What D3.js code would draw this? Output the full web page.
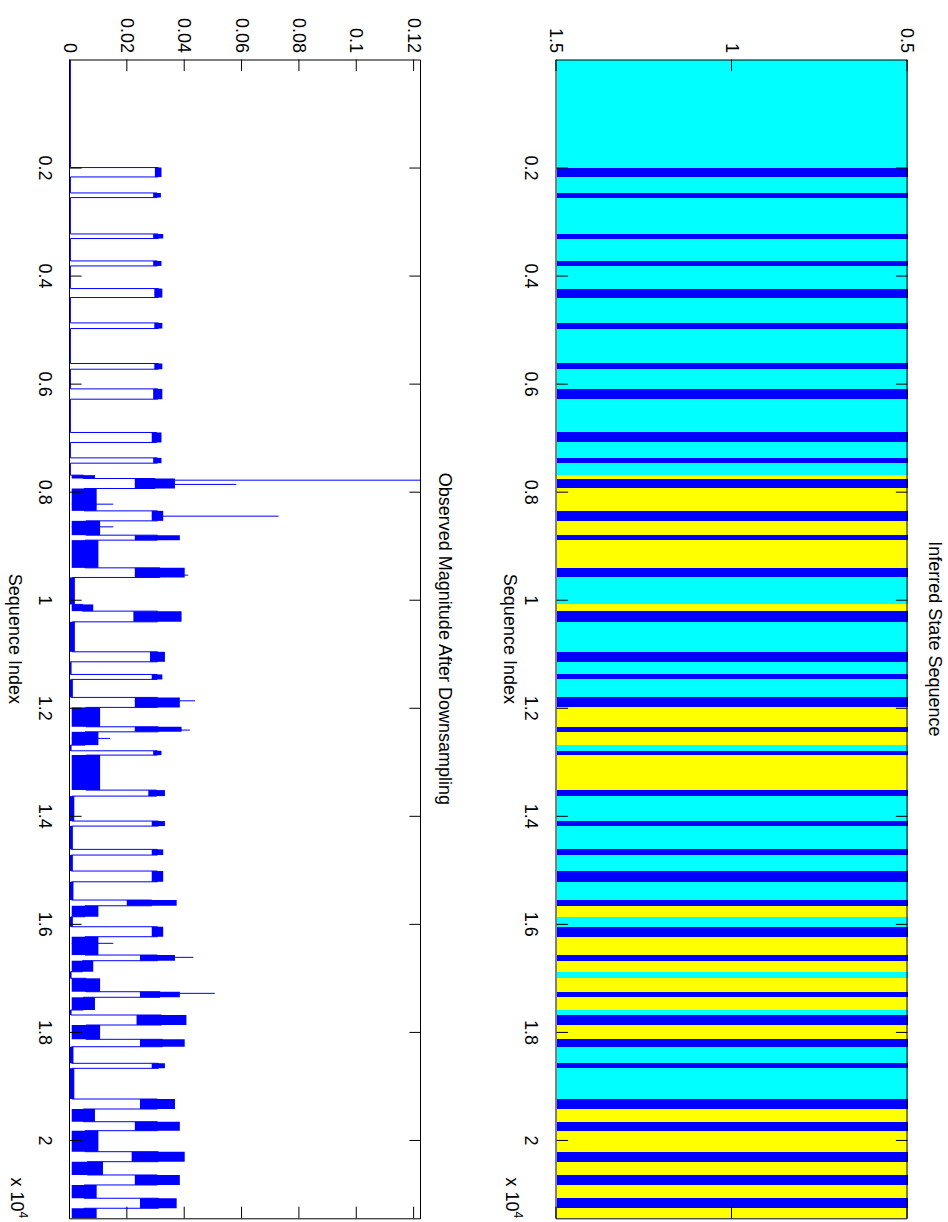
<!DOCTYPE html>
<html>
<head>
<meta charset="utf-8">
<script src="https://cdn.jsdelivr.net/npm/d3@7"></script>
<style>
  body { margin: 0; background: #fff; }
  text { font-family: "Liberation Sans", Arial, Helvetica, sans-serif; }
</style>
</head>
<body>
<script>
// length of the sequence (samples)
var seqLength = 21450;
var magMax = 0.1224;

// inferred state sequence as runs: start index and state (1 = blue, 2 = cyan, 3 = yellow)
var runStart = [0, 2000, 2174, 2470, 2556, 3229, 3314, 3729, 3821, 4240,
  4406, 4876, 4980, 5627, 5733, 6097, 6288, 6904, 7089, 7374,
  7472, 7694, 7756, 7941, 8355, 8540, 8805, 8897, 9410, 9588,
  10087, 10211, 10409, 10964, 11149, 11383, 11475, 11808, 11993, 12352,
  12445, 12691, 12796, 12876, 13524, 13635, 14097, 14190, 14621, 14726,
  15022, 15221, 15559, 15665, 15868, 16053, 16238, 16577, 16682, 16886,
  17008, 17256, 17359, 17594, 17687, 17872, 18137, 18274, 18581, 18674,
  19242, 19427, 19662, 19828, 20217, 20402, 20648, 20833, 21079, 21264];
var runState = [2, 1, 2, 1, 2, 1, 2, 1, 2, 1,
  2, 1, 2, 1, 2, 1, 2, 1, 2, 1,
  2, 3, 1, 3, 1, 3, 1, 3, 1, 2,
  3, 1, 2, 1, 2, 1, 2, 1, 3, 1,
  3, 2, 1, 3, 1, 2, 1, 2, 1, 2,
  1, 2, 1, 3, 2, 1, 3, 1, 3, 2,
  3, 1, 3, 2, 1, 3, 1, 2, 1, 2,
  1, 3, 1, 3, 1, 3, 1, 3, 1, 3];

// observed magnitude in each run: low and high edge of the dense noise band
var runLo = [0, 0.0296, 0, 0.0290, 0, 0.0290, 0, 0.0290, 0, 0.0294,
  0, 0.0294, 0, 0.0294, 0, 0.0290, 0, 0.0285, 0, 0.0290,
  0, 0.0006, 0.0226, 0.0006, 0.0285, 0.0006, 0.0226, 0.0006, 0.0226, 0,
  0.0006, 0.0221, 0, 0.0279, 0, 0.0285, 0, 0.0226, 0.0006, 0.0226,
  0.0006, 0, 0.0290, 0.0006, 0.0273, 0, 0.0285, 0, 0.0285, 0,
  0.0285, 0, 0.0198, 0.0006, 0, 0.0285, 0.0006, 0.0244, 0.0006, 0,
  0.0006, 0.0244, 0.0006, 0, 0.0232, 0.0006, 0.0244, 0, 0.0285, 0,
  0.0244, 0.0006, 0.0226, 0.0006, 0.0215, 0.0006, 0.0226, 0.0006, 0.0244, 0.0006];
var runHi = [0.0003, 0.0319, 0.0003, 0.0317, 0.0003, 0.0325, 0.0003, 0.0319, 0.0003, 0.0322,
  0.0003, 0.0322, 0.0003, 0.0322, 0.0003, 0.0322, 0.0003, 0.0319, 0.0003, 0.0319,
  0.0003, 0.0087, 0.0366, 0.0093, 0.0325, 0.0105, 0.0383, 0.0099, 0.0400, 0.0017,
  0.0081, 0.0389, 0.0017, 0.0331, 0.0005, 0.0322, 0.0010, 0.0383, 0.0105, 0.0389,
  0.0099, 0.0005, 0.0319, 0.0105, 0.0331, 0.0015, 0.0331, 0.0010, 0.0325, 0.0010,
  0.0325, 0.0012, 0.0372, 0.0099, 0.0010, 0.0325, 0.0099, 0.0366, 0.0081, 0.0005,
  0.0105, 0.0383, 0.0087, 0.0005, 0.0406, 0.0105, 0.0400, 0.0012, 0.0331, 0.0015,
  0.0366, 0.0087, 0.0383, 0.0099, 0.0400, 0.0115, 0.0383, 0.0093, 0.0372, 0.0093];

// single samples that stick out of the bands
var spikeIdx = [7787, 7865, 8231, 8453, 8651, 9545, 11871, 12413, 12567, 16360, 16620, 17286];
var spikeVal = [0.1224, 0.058, 0.0151, 0.0727, 0.0151, 0.0412, 0.0436, 0.0418, 0.014, 0.0151, 0.043, 0.0505];

// tick values
var seqTicks = [2000, 4000, 6000, 8000, 10000, 12000, 14000, 16000, 18000, 20000];
var stateTicks = [0.5, 1, 1.5];
var magTicks = [0, 0.02, 0.04, 0.06, 0.08, 0.1, 0.12];

// figure is drawn landscape (1222 x 948) and turned a quarter clockwise
var fontSize = 18,
  tickLen = 11.6;

var svg = d3
  .select("body")
  .append("svg")
  .attr("width", 948)
  .attr("height", 1222);

svg.append("rect").attr("width", 948).attr("height", 1222).attr("fill", "#fff");

var fig = svg.append("g").attr("transform", "translate(948,0) rotate(90)");

var x = d3.scaleLinear().domain([0, seqLength]).range([59.5, 1218.3]);
var yState = d3.scaleLinear().domain([0.5, 1.5]).range([40.5, 391.5]);
var yMag = d3.scaleLinear().domain([0, magMax]).range([878, 527]);
var color = d3
  .scaleOrdinal()
  .domain([1, 2, 3])
  .range(["#0000ff", "#00ffff", "#ffff00"]);

var runs = runStart.map((s, i) => ({
  start: s,
  end: i < runStart.length - 1 ? runStart[i + 1] : seqLength,
  state: runState[i],
  lo: runLo[i],
  hi: runHi[i]
}));

// ---- top panel: state sequence image
fig
  .append("g")
  .selectAll("rect")
  .data(runs)
  .enter()
  .append("rect")
  .attr("x", (d) => x(d.start))
  .attr("width", (d) => x(d.end) - x(d.start))
  .attr("y", yState(0.5))
  .attr("height", yState(1.5) - yState(0.5))
  .attr("fill", (d) => color(d.state))
  .attr("shape-rendering", "crispEdges");

// ---- bottom panel: magnitude signal
fig
  .append("clipPath")
  .attr("id", "magclip")
  .append("rect")
  .attr("x", x.range()[0])
  .attr("y", yMag(magMax))
  .attr("width", x.range()[1] - x.range()[0])
  .attr("height", yMag(0) - yMag(magMax));

var sig = fig.append("g").attr("clip-path", "url(#magclip)");

var area = d3
  .area()
  .x((d) => x(d[0]))
  .y0((d) => yMag(d[1]))
  .y1((d) => yMag(d[2]));

sig
  .selectAll("path.band")
  .data(runs.filter((r) => r.hi - r.lo > 0.0004))
  .enter()
  .append("path")
  .attr("class", "band")
  .attr("d", (r) => area([[r.start, r.lo, r.hi], [r.end, r.lo, r.hi]]))
  .attr("fill", "#0000ff");

var linePts = [];
runs.forEach((r) => {
  var mid = (r.lo + r.hi) / 2;
  linePts.push([r.start, mid], [r.end, mid]);
});

sig
  .append("path")
  .attr("d", d3.line().x((d) => x(d[0])).y((d) => yMag(d[1]))(linePts))
  .attr("fill", "none")
  .attr("stroke", "#0000ff")
  .attr("stroke-width", 1);

var spikes = spikeIdx.map((s, i) => {
  var r = runs.find((r) => s >= r.start && s < r.end);
  return { idx: s, base: r.lo, val: spikeVal[i] };
});

sig
  .selectAll("line.spike")
  .data(spikes)
  .enter()
  .append("line")
  .attr("class", "spike")
  .attr("x1", (d) => x(d.idx))
  .attr("x2", (d) => x(d.idx))
  .attr("y1", (d) => yMag(d.base))
  .attr("y2", (d) => yMag(d.val))
  .attr("stroke", "#0000ff")
  .attr("stroke-width", 1);

// ---- axes, MATLAB style box with inward ticks
function drawAxes(yScale, yTicks, yFormat, titleText, titleY, labelY) {
  var top = d3.min(yScale.range()),
    bottom = d3.max(yScale.range());

  var bottomAxis = fig
    .append("g")
    .attr("transform", `translate(0,${bottom})`)
    .call(
      d3
        .axisBottom(x)
        .tickValues(seqTicks)
        .tickFormat((d) => d / 1e4)
        .tickSizeInner(-tickLen)
        .tickSizeOuter(0)
        .tickPadding(18.5)
    );

  fig
    .append("g")
    .attr("transform", `translate(0,${top})`)
    .call(
      d3
        .axisTop(x)
        .tickValues(seqTicks)
        .tickFormat("")
        .tickSizeInner(-tickLen)
        .tickSizeOuter(0)
    );

  fig
    .append("g")
    .attr("transform", `translate(${x.range()[0]},0)`)
    .call(
      d3
        .axisLeft(yScale)
        .tickValues(yTicks)
        .tickFormat(yFormat)
        .tickSizeInner(-tickLen)
        .tickSizeOuter(0)
        .tickPadding(6.5)
    );

  fig
    .append("g")
    .attr("transform", `translate(${x.range()[1]},0)`)
    .call(
      d3
        .axisRight(yScale)
        .tickValues(yTicks)
        .tickFormat("")
        .tickSizeInner(-tickLen)
        .tickSizeOuter(0)
    );

  fig
    .append("text")
    .attr("x", (x.range()[0] + x.range()[1]) / 2)
    .attr("y", titleY)
    .attr("text-anchor", "middle")
    .attr("font-size", fontSize)
    .text(titleText);

  fig
    .append("text")
    .attr("x", (x.range()[0] + x.range()[1]) / 2)
    .attr("y", labelY)
    .attr("text-anchor", "middle")
    .attr("font-size", fontSize)
    .text("Sequence Index");

  var expo = fig
    .append("text")
    .attr("x", x.range()[1])
    .attr("y", labelY - 2)
    .attr("text-anchor", "end")
    .attr("font-size", fontSize)
    .text("x 10");
  expo.append("tspan").attr("dy", -8).attr("font-size", 12).text("4");
}

drawAxes(yState, stateTicks, (d) => d, "Inferred State Sequence", 19.5, 444.5);
drawAxes(yMag, magTicks, (d) => d, "Observed Magnitude After Downsampling", 509.5, 939.5);

fig
  .selectAll(".tick text")
  .attr("font-size", fontSize)
  .attr("font-family", '"Liberation Sans", Arial, Helvetica, sans-serif')
  .attr("fill", "#000");
fig.selectAll(".domain, .tick line").attr("stroke", "#000");
</script>
</body>
</html>
